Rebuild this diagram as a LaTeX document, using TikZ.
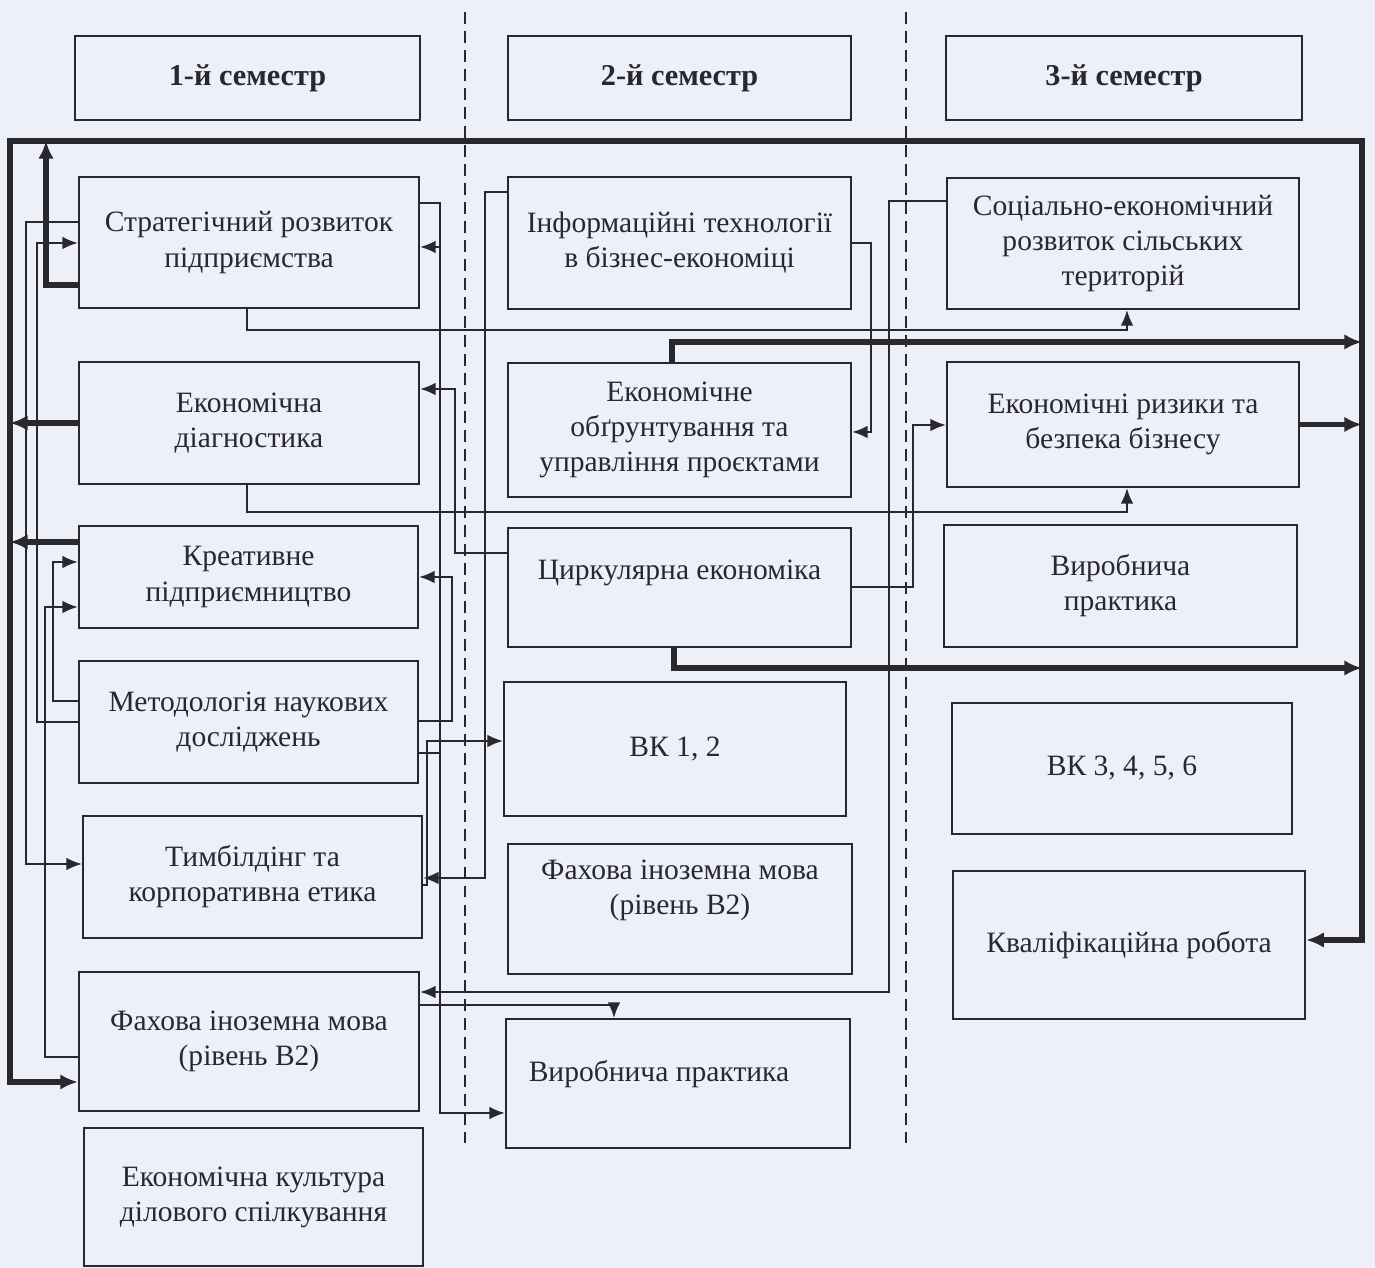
\documentclass[tikz,border=0pt]{standalone}
\usepackage{fontspec}
\setmainfont{Liberation Serif}
\usetikzlibrary{arrows.meta}
\definecolor{paper}{RGB}{237,239,249}
\definecolor{ink}{RGB}{40,40,45}
\tikzset{
  smalltip/.tip={Latex[length=4.4pt,width=3.6pt]},
  bigtip/.tip={Latex[length=5pt,width=4.4pt]},
  box/.style={draw=ink,line width=0.6pt,align=center,inner sep=0pt,text=ink,
    font=\fontsize{8.4}{10}\selectfont},
  head/.style={box,font=\fontsize{8.6}{10}\selectfont\bfseries},
  link/.style={draw=ink,line width=0.55pt,-smalltip},
  heavy/.style={draw=ink,line width=1.45pt,-bigtip},
  semline/.style={draw=ink,line width=0.5pt,dash pattern=on 3.4pt off 2pt}
}
\begin{document}
\begin{tikzpicture}[x=0.01cm,y=-0.01cm]
\fill[paper](0,0)rectangle(1375,1268);
\useasboundingbox(0,0)rectangle(1375,1268);
% semester borders
\draw[semline](465,12)--(465,1143);
\draw[semline](906,12)--(906,1143);
% headers
\node[head,minimum width=3.45cm,minimum height=0.84cm](sem1)at(247.5,78){1-й семестр};
\node[head,minimum width=3.43cm,minimum height=0.84cm](sem2)at(679.5,78){2-й семестр};
\node[head,minimum width=3.56cm,minimum height=0.84cm](sem3)at(1124,78){3-й семестр};
% 1st semester
\node[box,minimum width=3.40cm,minimum height=1.31cm](strat)at(249,242.5){Стратегічний розвиток\\підприємства};
\node[box,minimum width=3.40cm,minimum height=1.22cm](diag)at(249,423){Економічна\\діагностика};
\node[box,minimum width=3.39cm,minimum height=1.02cm](kreat)at(248.5,577){Креативне\\підприємництво};
\node[box,minimum width=3.39cm,minimum height=1.22cm](metod)at(248.5,722){Методологія наукових\\досліджень};
\node[box,minimum width=3.39cm,minimum height=1.22cm](tymb)at(252.5,877){Тимбілдінг та\\корпоративна етика};
\node[box,minimum width=3.40cm,minimum height=1.39cm](fakh1)at(249,1041.5){Фахова іноземна мова\\(рівень B2)};
\node[box,minimum width=3.39cm,minimum height=1.38cm](kult)at(253.5,1197){Економічна культура\\ділового спілкування};
% 2nd semester
\node[box,minimum width=3.43cm,minimum height=1.32cm](inf)at(679.5,243){Інформаційні технології\\в бізнес-економіці};
\node[box,minimum width=3.43cm,minimum height=1.34cm](obgr)at(679.5,430){Економічне\\обґрунтування та\\управління проєктами};
\node[box,minimum width=3.43cm,minimum height=1.19cm,text depth=10pt](tsyrk)at(679.5,587.5){Циркулярна економіка};
\node[box,minimum width=3.42cm,minimum height=1.34cm](vk12)at(675,749){ВК 1, 2};
\node[box,minimum width=3.44cm,minimum height=1.30cm,text depth=12.4pt](fakh2)at(680,909){Фахова іноземна мова\\(рівень B2)};
\node[box,minimum width=3.44cm,minimum height=1.29cm,text depth=7pt](vyrob2)at(678,1083.5){Виробнича практика\rule{10.8pt}{0pt}};
% 3rd semester
\node[box,minimum width=3.52cm,minimum height=1.31cm](sots)at(1123,243.5){Соціально-економічний\\розвиток сільських\\територій};
\node[box,minimum width=3.52cm,minimum height=1.25cm](ryzyk)at(1123,424.5){Економічні ризики та\\безпека бізнесу};
\node[box,minimum width=3.53cm,minimum height=1.22cm](vyrob3)at(1120.5,586){Виробнича\\практика};
\node[box,minimum width=3.40cm,minimum height=1.31cm](vk36)at(1122,768.5){ВК 3, 4, 5, 6};
\node[box,minimum width=3.52cm,minimum height=1.48cm](kval)at(1129,945){Кваліфікаційна робота};
% main frame
\coordinate(frtl)at(10,141);
\coordinate(frtr)at(1362,141);
\draw[heavy,bigtip-bigtip](fakh1.west|-0,1082)-|(frtl)-|(frtr|-0,940)--(kval.east|-0,940);
\draw[heavy](strat.west|-0,285)-|(frtl-|46,0);
\draw[heavy](diag.west)--(diag.west-|frtl);
\draw[heavy](kreat.west|-0,542)--(frtl|-0,542);
\draw[heavy](obgr.north-|672,0)|-(frtr|-0,342);
\draw[heavy](ryzyk.east)--(ryzyk.east-|frtr);
\draw[heavy](tsyrk.south-|674,0)|-(frtr|-0,668);
% left side links
\draw[link](strat.west|-0,222)-|(26,864)--(tymb.west|-0,864);
\draw[link](metod.west|-0,722)-|(37,243)--(strat.west|-0,243);
\draw[link](metod.west|-0,701)-|(53,562)--(kreat.west|-0,562);
\draw[link](fakh1.west|-0,1057)-|(45,607)--(kreat.west|-0,607);
% middle links
\draw[link](strat.east|-0,203)-|(440,1113)--(vyrob2.west|-0,1113);
\draw[link](metod.east|-0,753)-|(440,247)--(strat.east|-0,247);
\draw[link](tsyrk.west|-0,553)-|(455,389)--(diag.east|-0,389);
\draw[link](metod.east|-0,721)-|(452,577)--(kreat.east|-0,577);
\draw[link](tymb.east|-0,885)-|(427,741)--(vk12.west|-0,741);
\draw[link](inf.west|-0,192)-|(485,878)--(tymb.east|-0,878);
\draw[link](fakh1.east|-0,1005)-|(vyrob2.north-|614,0);
\draw[link](sots.west|-0,201)-|(889,992)--(fakh1.east|-0,992);
\draw[link](inf.east|-0,243)-|(871,432)--(obgr.east|-0,432);
\draw[link](tsyrk.east|-0,587)-|(913,425)--(ryzyk.west|-0,425);
\draw[link](strat.south-|247,0)|-(1127,330)--(sots.south-|1127,0);
\draw[link](diag.south-|247,0)|-(1127,512)--(ryzyk.south-|1127,0);
\end{tikzpicture}
\end{document}
